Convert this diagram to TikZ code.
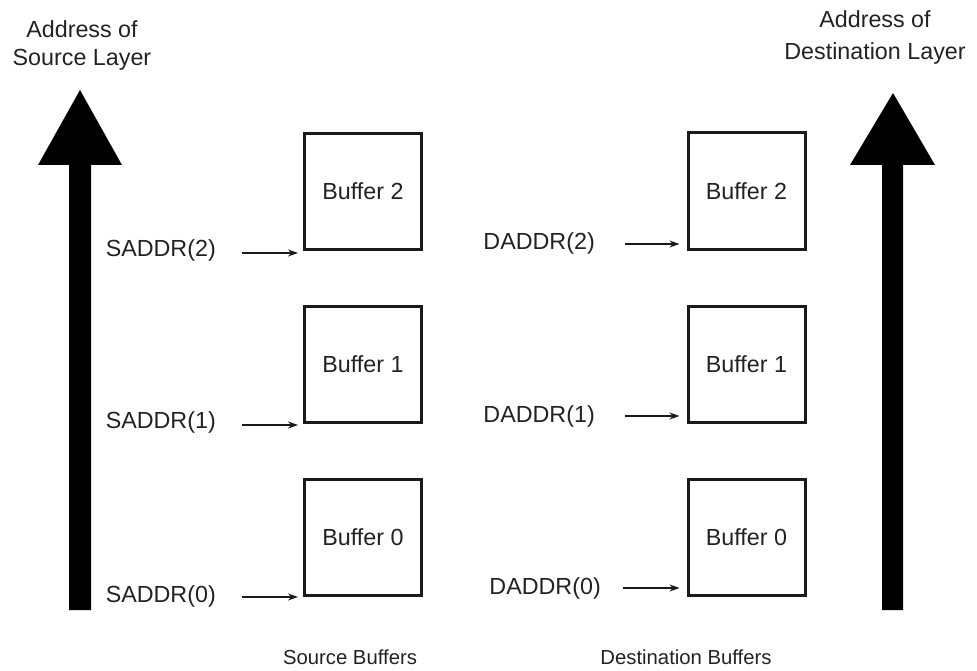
\documentclass[tikz,border=0pt]{standalone}
\usepackage{fontspec}
\setmainfont{Liberation Sans}
\usepackage{tikz}
\usetikzlibrary{arrows.meta,positioning}
\definecolor{BufInk}{HTML}{1A1A1A}
\definecolor{BufText}{HTML}{222222}

\begin{document}
\begin{tikzpicture}[
        x=1pt,y=-1pt,
        every node/.style={font=\fontsize{23.3}{28}\selectfont,text=BufText},
        buf/.style={draw=BufInk,line width=3pt,minimum width=117pt,minimum height=116pt,inner sep=0pt},
        addr/.style={anchor=east,inner sep=0pt},
        ptr/.style={-{Stealth[length=10pt,width=7pt]},line width=1.1pt,draw=BufInk},
        bigarrow/.style={fill=black,draw=none}
      ]
      \useasboundingbox (0,0) rectangle (977,671);

      % source side
      \node[buf] (sb2) at (363,191.5) {Buffer 2};
      \node[buf] (sb1) at (363,364) {Buffer 1};
      \node[buf] (sb0) at (363,537.5) {Buffer 0};
      \node[addr] (sa2) at (216,250) {SADDR(2)};
      \node[addr] (sa1) at (216,422) {SADDR(1)};
      \node[addr] (sa0) at (216,596) {SADDR(0)};
      \coordinate (s2) at (242,253);
      \coordinate (s1) at (242,425);
      \coordinate (s0) at (242,597);
      \draw[ptr] (s2) -- ([xshift=-5pt]s2 -| sb2.west);
      \draw[ptr] (s1) -- ([xshift=-5pt]s1 -| sb1.west);
      \draw[ptr] (s0) -- ([xshift=-5pt]s0 -| sb0.west);

      % destination side
      \node[buf] (db2) at (746.5,191) {Buffer 2};
      \node[buf] (db1) at (746.5,364) {Buffer 1};
      \node[buf] (db0) at (746.5,537.5) {Buffer 0};
      \node[addr] (da2) at (595,243) {DADDR(2)};
      \node[addr] (da1) at (595,416) {DADDR(1)};
      \node[addr] (da0) at (601,588) {DADDR(0)};
      \coordinate (d2) at (625,244);
      \coordinate (d1) at (625,416);
      \coordinate (d0) at (623,588);
      \draw[ptr] (d2) -- ([xshift=-7pt]d2 -| db2.west);
      \draw[ptr] (d1) -- ([xshift=-7pt]d1 -| db1.west);
      \draw[ptr] (d0) -- ([xshift=-7pt]d0 -| db0.west);

      % address axes
      \fill[bigarrow] (69,610) -- (69,165) -- (38,165) -- (80,90) -- (122,165) -- (91,165) -- (91,610) -- cycle;
      \fill[bigarrow] (882,610) -- (882,165) -- (850,165) -- (893,93) -- (935,165) -- (903,165) -- (903,610) -- cycle;
      \node[align=center] (srcaxis) at (82,45) {Address of\\Source Layer};
      \node[align=center,font=\fontsize{23.3}{32}\selectfont] (dstaxis) at (875,37) {Address of\\Destination Layer};

      \node[font=\fontsize{20.3}{24}\selectfont] (srcgroup) at (350,657) {Source Buffers};
      \node[font=\fontsize{20.3}{24}\selectfont] (dstgroup) at (686,657) {Destination Buffers};
    \end{tikzpicture}
\end{document}
